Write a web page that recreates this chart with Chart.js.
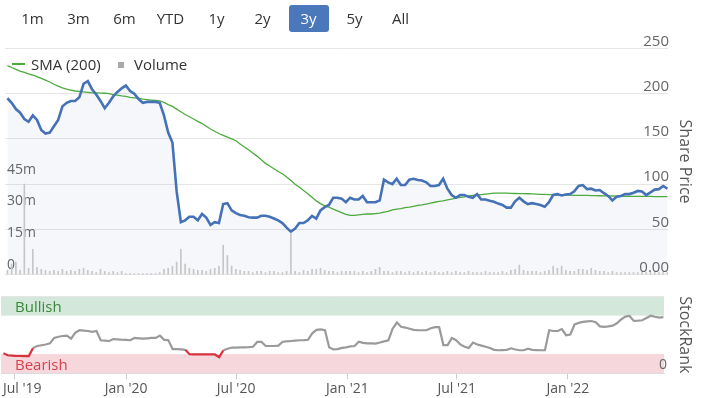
<!DOCTYPE html>
<html>
<head>
<meta charset="utf-8">
<script src="https://cdn.jsdelivr.net/npm/chart.js@4.4.1/dist/chart.umd.min.js"></script>
<style>
  body { margin: 0; background: #fff; font-family: "Open Sans", sans-serif; }
  #wrap { position: relative; width: 707px; height: 398px; overflow: hidden; }
  canvas { position: absolute; left: 0; }
  #ranges { position: absolute; left: 9.5px; top: 5px; display: flex; z-index: 2; }
  #ranges span { display: block; width: 40px; height: 27px; margin: 0 3px; line-height: 27px;
    text-align: center; font-size: 15px; color: #333; border-radius: 3px; }
  #ranges span.on { background: #4a78ba; color: #fff; }
  .lg { position: absolute; z-index: 2; }
  .lg-text { top: 54px; line-height: 20px; font-size: 15px; color: #333; }
</style>
</head>
<body>
<div id="wrap">
  <canvas id="mainChart" width="707" height="285" style="top:0"></canvas>
  <canvas id="rankChart" width="707" height="113" style="top:285px"></canvas>
  <div id="ranges"></div>
  <div class="lg" style="left:12px;top:63.3px;width:13px;height:1.5px;background:#4dab3e"></div>
  <span class="lg lg-text" style="left:31px">SMA (200)</span>
  <div class="lg" style="left:118px;top:62px;width:6px;height:6px;background:#aaa"></div>
  <span class="lg lg-text" style="left:134px">Volume</span>
</div>
<script>
const rangeButtons = ['1m', '3m', '6m', 'YTD', '1y', '2y', '3y', '5y', 'All'];
const selectedRange = '3y';

const tickDates = ['2019-07-01', '2020-01-01', '2020-07-01', '2021-01-01', '2021-07-01', '2022-01-01'];
const tickLabels = ["Jul '19", "Jan '20", "Jul '20", "Jan '21", "Jul '21", "Jan '22"];
const xFirst = '2019-06-08';
const xLast = '2022-06-09';
const firstWeek = '2019-06-12'; // weekly closes from here

const priceTicks = [0, 50, 100, 150, 200, 250];
const volumeTicks = [0, 15, 30, 45]; // millions

const price = [
  195, 190, 183, 179, 172, 169, 176, 171, 160, 156,
  157, 164, 171, 186, 190, 192, 192, 196, 211, 214,
  205, 199, 192, 184, 190, 197, 202, 206, 209, 203,
  200, 194, 190, 191, 191, 191, 190, 176, 157, 146,
  92, 58, 60, 64, 64, 60, 67, 63, 55, 58,
  57, 78, 79, 71, 68, 66, 65, 63.5, 63, 63,
  65, 65, 64, 62, 60, 57, 52, 47.5, 51, 57,
  57, 60, 65, 62, 71, 74.5, 77, 85, 85, 84,
  80, 85, 83, 83, 87, 80, 80, 80, 82, 105,
  102, 100, 106, 99, 99, 105, 106, 104.5, 104, 102,
  98, 98, 99, 106, 95, 88, 85, 88, 88, 86,
  85, 89, 83, 83, 81.6, 80.5, 78.5, 77, 74, 74,
  81, 85, 81, 78, 79, 78, 77, 75, 80, 88,
  89, 87.5, 88.5, 89, 92, 98, 99, 94.5, 95, 93,
  93.5, 90, 87, 82, 86, 87, 89, 89, 90.5, 92.5,
  92, 88, 91, 94, 94.5, 98, 95
];

const sma200 = [
  231, 229, 227, 225, 223.5, 222, 220.5, 219, 217, 215,
  213, 210.5, 208.5, 206.5, 205, 204, 203, 202.5, 202, 201.5,
  201, 201, 200.7, 200.5, 200, 199, 198.5, 197.5, 197, 196,
  195.5, 195, 194, 193.5, 193, 192.5, 192, 190.5, 188, 186,
  183, 180, 177, 174.5, 172, 169.5, 167, 164, 161, 158.5,
  156, 154, 152, 150, 148, 144.5, 141, 138, 134.5, 131,
  127, 123, 120, 117, 114, 111.5, 108, 104, 100, 96.5,
  93, 89.5, 85.5, 81.5, 78.5, 76, 74.5, 72.5, 70.5, 68.5,
  66.5, 65.5, 65.5, 66, 66.5, 67, 67, 67.5, 68, 69,
  70, 71.5, 72.5, 73, 74, 74.5, 75.5, 76.5, 77, 78,
  79, 80, 81, 81.5, 82.5, 83.5, 84.5, 85.5, 86, 87,
  87.5, 88, 88.5, 89, 89.5, 90, 90, 90, 90, 89.8,
  89.7, 89.6, 89.5, 89.4, 89.2, 89, 88.8, 88.6, 88.4, 88.2,
  88, 88, 87.9, 87.8, 87.7, 87.6, 87.5, 87.5, 87.4, 87.3,
  87.2, 87.1, 87, 86.9, 86.8, 86.7, 86.6, 86.5, 86.5, 86.5,
  86.4, 86.4, 86.4, 86.3, 86.3, 86.3, 86.3
];

// millions of shares
const volume = [
  2, 5, 6, 2, 43, 3, 12, 3.5, 2.5, 2,
  1.5, 2, 1.5, 2.5, 1.5, 2, 1.5, 2.5, 3, 2,
  1.5, 1, 2.5, 1.5, 1, 1.5, 1, 1.5, 0.5, 0.5,
  0.5, 0.5, 0.5, 0.5, 0.5, 0.5, 1, 2.5, 3, 4,
  6, 12, 5, 3, 2.5, 2, 2, 1.5, 2.5, 3,
  4, 14, 9, 4, 2.5, 2, 1.5, 1.5, 1, 1.5,
  1.5, 1, 1.5, 1.5, 1, 1, 1.5, 19.5, 1.5, 1,
  2, 1.5, 2.5, 2.5, 3, 2, 1.5, 1.5, 1, 1.5,
  1.5, 1.5, 1.5, 1, 1.5, 1, 1.5, 2.5, 3.5, 1.5,
  1.5, 1, 1.5, 1.5, 1, 1.5, 1, 1.5, 1, 1.5,
  1, 1.5, 1, 1, 1.5, 1, 1.5, 1, 1, 1.5,
  1, 1, 1, 1.5, 1, 1, 1, 1.5, 1, 2,
  2.5, 4.5, 2, 1.5, 1.5, 1.5, 1, 1.5, 2, 4,
  3, 4, 2, 1.5, 1.5, 2.5, 2.5, 2, 3, 2,
  1.5, 1.5, 1, 1.5, 1, 1, 1, 1, 1, 1,
  1, 1, 1, 1, 1, 1, 1
];

const stockRank = [
  26, 23.5, 23, 22.5, 22.5, 22.4, 22.4, 33, 35.5, 36.5,
  37.5, 39, 46, 47.5, 48.5, 49, 45, 53, 56, 55.5,
  55, 54, 55, 43, 42.5, 42, 44.5, 44, 43.6, 43.5,
  43, 46, 45.5, 45, 45.5, 46, 46, 49, 43.5, 43,
  31.4, 31.4, 31, 30.5, 24.8, 24.5, 24.5, 24.5, 24.5, 24.5,
  24.5, 21, 30, 32, 33.5, 33.5, 33.7, 33.8, 34, 34.5,
  40.8, 40.8, 35.5, 35.5, 35.5, 36, 41, 41.5, 42, 42.5,
  43, 43.2, 43.6, 52, 56.5, 57, 56, 34, 31, 31.5,
  33, 33.8, 35, 35.5, 41, 39.5, 39, 39, 38.7, 40,
  41.5, 43, 58, 66, 60.5, 59.5, 58, 56.5, 56, 56,
  56, 58.5, 60, 60, 36.7, 36.7, 46, 43, 37.5, 34.5,
  33, 40, 37.5, 36, 34.5, 33, 30.5, 30, 30.2, 30.5,
  32.5, 31, 30, 30, 32, 30.5, 30.2, 30, 30, 56,
  55, 55, 57.5, 49.5, 50.5, 63.5, 65.5, 66.8, 67.5, 68,
  66.5, 61, 60.5, 61, 62, 65, 70, 73.8, 74.5, 68.2,
  68.4, 69, 71.8, 74.8, 73.5, 72.5, 73
];

const bullishRange = [75, 100];
const bearishRange = [0, 25];

// range buttons
const rangesEl = document.getElementById('ranges');
rangeButtons.forEach(r => {
  const s = document.createElement('span');
  s.textContent = r;
  if (r === selectedRange) s.className = 'on';
  rangesEl.appendChild(s);
});

// x values are days from 1 Jul 2019
const DAY = 86400000;
const base = Date.parse('2019-07-01');
const dayOf = s => (Date.parse(s) - base) / DAY;
const tickDays = tickDates.map(dayOf);
const xMin = dayOf(xFirst);
const xMax = dayOf(xLast);
const weekX = price.map((_, i) => dayOf(firstWeek) + 7 * i);
const pts = arr => arr.map((y, i) => ({ x: weekX[i], y }));

Chart.defaults.font.family = '"Open Sans", sans-serif';

const titleRight = (text) => ({
  display: true, text, color: '#555', font: { size: 16 }, padding: { top: 4, bottom: 5.4 }
});

new Chart(document.getElementById('mainChart'), {
  type: 'line',
  data: {
    datasets: [
      {
        label: 'Share Price', data: pts(price), yAxisID: 'yPrice',
        borderColor: '#4572b7', borderWidth: 2.6, pointRadius: 0,
        backgroundColor: 'rgba(69,114,183,0.055)', fill: 'origin', order: 1
      },
      {
        label: 'SMA (200)', data: pts(sma200), yAxisID: 'yPrice',
        borderColor: '#4dab3e', borderWidth: 1.3, pointRadius: 0, fill: false, order: 2
      },
      {
        type: 'bar', label: 'Volume', data: pts(volume), yAxisID: 'yVol',
        backgroundColor: '#c6c6c6', barThickness: 1, order: 3
      }
    ]
  },
  options: {
    responsive: false,
    animation: false,
    events: [],
    layout: { autoPadding: false, padding: { top: 48.5, bottom: 8.5, left: 1, right: 8.4 } },
    plugins: {
      legend: { display: false },
      tooltip: { enabled: false },
      filler: { drawTime: 'beforeDatasetsDraw' }
    },
    scales: {
      x: { type: 'linear', min: xMin, max: xMax, offset: false, display: false },
      yPrice: {
        type: 'linear', position: 'right', min: 0, max: 250,
        afterBuildTicks: s => { s.ticks = priceTicks.map(v => ({ value: v })); },
        border: { display: false },
        grid: { color: '#e6e6e6', drawTicks: false },
        ticks: {
          mirror: true, padding: 1, labelOffset: -7, color: '#666', font: { size: 15 },
          callback: v => v === 0 ? '0.00' : v
        },
        title: titleRight('Share Price')
      },
      yVol: {
        type: 'linear', position: 'left', min: 0, max: 107.5,
        afterBuildTicks: s => { s.ticks = volumeTicks.map(v => ({ value: v })); },
        border: { display: false },
        grid: { display: false, drawTicks: false },
        ticks: {
          mirror: true, padding: 2, labelOffset: -10, color: '#666', font: { size: 14 },
          callback: v => v === 0 ? '0' : v + 'm'
        }
      }
    }
  }
});

const rankPlugin = {
  id: 'rankBands',
  beforeDraw(chart) {
    const { ctx, chartArea: a, scales: { y } } = chart;
    const bands = [
      { r: bullishRange, fill: '#d3e8da', text: 'Bullish', color: '#3a873a' },
      { r: bearishRange, fill: '#f6d8dc', text: 'Bearish', color: '#d8404e' }
    ];
    ctx.save();
    ctx.font = '15px "Open Sans"';
    ctx.textBaseline = 'middle';
    bands.forEach(b => {
      const top = y.getPixelForValue(b.r[1]);
      const bot = y.getPixelForValue(b.r[0]);
      ctx.fillStyle = b.fill;
      ctx.fillRect(a.left, top, a.right - a.left, bot - top);
      ctx.fillStyle = b.color;
      ctx.fillText(b.text, a.left + 14, (top + bot) / 2 + 2);
    });
    ctx.restore();
  },
  afterDraw(chart) {
    const { ctx, chartArea: a, scales: { x } } = chart;
    ctx.save();
    ctx.font = '14px "Open Sans"';
    ctx.fillStyle = '#555';
    ctx.textBaseline = 'middle';
    tickDays.forEach((d, i) => {
      const px = x.getPixelForValue(d);
      const w = ctx.measureText(tickLabels[i]).width;
      const left = Math.min(Math.max(px - w / 2, a.left + 2), a.right - w);
      ctx.fillText(tickLabels[i], left, a.bottom + 16);
    });
    ctx.restore();
  }
};

new Chart(document.getElementById('rankChart'), {
  type: 'line',
  data: {
    datasets: [{
      label: 'StockRank', data: pts(stockRank),
      borderColor: '#9a9a9a', borderWidth: 2.2, pointRadius: 0, fill: false,
      segment: {
        borderColor: c => (c.p0.parsed.y < bearishRange[1] || c.p1.parsed.y < bearishRange[1]) ? '#d6323f' : '#9a9a9a'
      }
    }]
  },
  options: {
    responsive: false,
    animation: false,
    events: [],
    layout: { autoPadding: false, padding: { top: 6.7, bottom: 18.7, left: 1, right: 8.4 } },
    plugins: { legend: { display: false }, tooltip: { enabled: false } },
    scales: {
      x: {
        type: 'linear', min: xMin, max: xMax, offset: false,
        afterBuildTicks: s => { s.ticks = tickDays.map(v => ({ value: v })); },
        ticks: { display: false },
        grid: { drawOnChartArea: false, tickLength: 6, color: '#ccc' },
        border: { color: '#ddd' }
      },
      y: {
        type: 'linear', position: 'right', min: 0, max: 100,
        afterBuildTicks: s => { s.ticks = [{ value: 0 }, { value: 100 }]; },
        border: { display: false },
        grid: { color: '#e6e6e6', drawTicks: false },
        ticks: {
          mirror: true, padding: 3, labelOffset: -8, color: '#666', font: { size: 14 },
          callback: v => v === 0 ? '0' : ''
        },
        title: titleRight('StockRank')
      }
    }
  },
  plugins: [rankPlugin]
});
</script>
</body>
</html>
